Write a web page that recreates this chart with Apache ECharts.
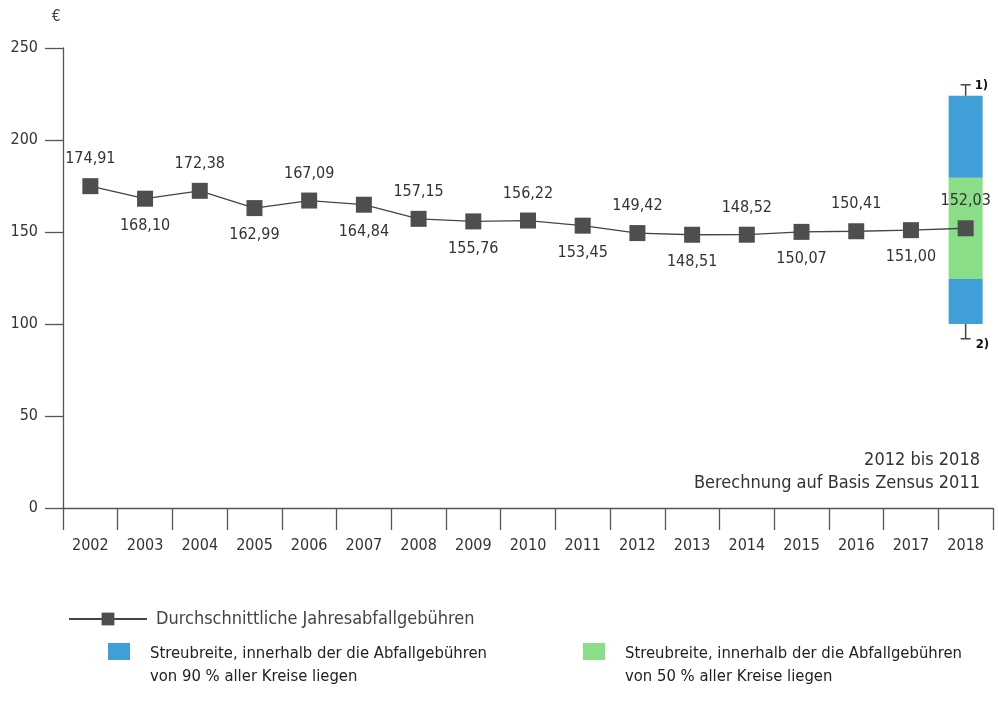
<!DOCTYPE html>
<html>
<head>
<meta charset="utf-8">
<script src="https://cdn.jsdelivr.net/npm/echarts@6/dist/echarts.min.js"></script>
<style>
html,body{margin:0;padding:0;background:#fff;}
#chart{width:998px;height:712px;}
</style>
</head>
<body>
<div id="chart"></div>
<script>
const years = ['2002','2003','2004','2005','2006','2007','2008','2009','2010','2011','2012','2013','2014','2015','2016','2017','2018'];
const fees = [174.91,168.10,172.38,162.99,167.09,164.84,157.15,155.76,156.22,153.45,149.42,148.51,148.52,150.07,150.41,151.00,152.03];
const spread90 = [100, 224];      // 2018: range containing 90 % of districts
const spread50 = [124.5, 179.5];  // 2018: range containing 50 % of districts
const whiskers = [[224, 230, '1)'], [100, 92, '2)']]; // from, to, note
const yTicks = [0, 50, 100, 150, 200, 250];

const FONT = '"DejaVu Sans Condensed", "Liberation Sans", sans-serif';
const nameLine = 'Durchschnittliche Jahresabfallgebühren';
const name90 = 'Streubreite, innerhalb der die Abfallgebühren\nvon 90 % aller Kreise liegen';
const name50 = 'Streubreite, innerhalb der die Abfallgebühren\nvon 50 % aller Kreise liegen';
const BLUE = '#3f9fd6', GREEN = '#8ade88';

const last = years.length - 1;
function only2018(v){ return years.map((y,i)=> i===last ? v : '-'); }

const fmt = v => v.toFixed(2).replace('.', ',');

const lineData = fees.map((v,i)=>({
  value: v,
  label: {position: i % 2 === 0 ? 'top' : 'bottom'}
}));

const chart = echarts.init(document.getElementById('chart'));
chart.setOption({
  animation: false,
  textStyle: {fontFamily: FONT},
  grid: {left: 63, right: 5, top: 48, bottom: 204, containLabel: false},
  xAxis: {
    type: 'category', data: years, boundaryGap: true,
    axisLine: {lineStyle: {color: '#555', width: 1.3}},
    axisTick: {show: true, length: 22, alignWithLabel: false, lineStyle: {color: '#555', width: 1.3}},
    axisLabel: {color: '#333', fontSize: 16, margin: 30, fontFamily: FONT},
    splitLine: {show: false}
  },
  yAxis: {
    type: 'value', min: yTicks[0], max: yTicks[yTicks.length-1], interval: 50,
    axisLine: {show: true, lineStyle: {color: '#555', width: 1.3}},
    axisTick: {show: true, length: 18, lineStyle: {color: '#555', width: 1.3}},
    axisLabel: {color: '#333', fontSize: 16, margin: 25, fontFamily: FONT},
    splitLine: {show: false}
  },
  legend: [
    {data: [nameLine], left: 63, top: 605, itemWidth: 78, itemHeight: 16, itemGap: 10,
     textStyle: {fontSize: 18, color: '#444', fontFamily: FONT, padding: [0,0,0,4]}, selectedMode: false},
    {data: [name90], left: 106, top: 637, itemWidth: 22, itemHeight: 16, itemStyle: {opacity: 0},
     textStyle: {fontSize: 16.5, color: '#222', lineHeight: 23, fontFamily: FONT, padding: [0,0,0,12]}, selectedMode: false},
    {data: [name50], left: 581, top: 637, itemWidth: 22, itemHeight: 16, itemStyle: {opacity: 0},
     textStyle: {fontSize: 16.5, color: '#222', lineHeight: 23, fontFamily: FONT, padding: [0,0,0,12]}, selectedMode: false}
  ],
  graphic: [
    {type: 'text', left: 52, top: 10, style: {text: '€', fontSize: 15, fill: '#444', fontFamily: FONT}},
    {type: 'text', x: 980, y: 449, style: {text: '2012 bis 2018\nBerechnung auf Basis Zensus 2011', align: 'right', fontSize: 18, lineHeight: 23, fill: '#333', fontFamily: FONT}},
    {type: 'rect', shape: {x: 108, y: 643, width: 22, height: 17}, style: {fill: BLUE}},
    {type: 'rect', shape: {x: 583, y: 643, width: 22, height: 17}, style: {fill: GREEN}}
  ],
  series: [
    {type: 'bar', stack: 's', name: 'base', data: only2018(spread90[0]), barWidth: 34,
     itemStyle: {color: 'transparent'}, silent: true},
    {type: 'bar', stack: 's', name: name90, data: only2018(spread50[0] - spread90[0]), barWidth: 34,
     itemStyle: {color: BLUE}},
    {type: 'bar', stack: 's', name: name50, data: only2018(spread50[1] - spread50[0]), barWidth: 34,
     itemStyle: {color: GREEN}},
    {type: 'bar', stack: 's', name: name90, data: only2018(spread90[1] - spread50[1]), barWidth: 34,
     itemStyle: {color: BLUE}},
    {type: 'custom', name: 'whisker', silent: true,
     data: whiskers.map(w => [last, w[0], w[1]]),
     renderItem: function(params, api){
       const p0 = api.coord([api.value(0), api.value(1)]);
       const p1 = api.coord([api.value(0), api.value(2)]);
       const note = whiskers[params.dataIndex][2];
       const up = p1[1] < p0[1];
       return {type: 'group', children: [
         {type: 'line', shape: {x1: p0[0], y1: p0[1], x2: p1[0], y2: p1[1]}, style: {stroke: '#444', lineWidth: 1.5}},
         {type: 'line', shape: {x1: p1[0]-5, y1: p1[1], x2: p1[0]+5, y2: p1[1]}, style: {stroke: '#444', lineWidth: 1.5}},
         {type: 'text', x: p1[0] + (up ? 9 : 10), y: p1[1] + (up ? 1 : 6), style: {text: note, fontSize: 13, fill: '#111', fontFamily: FONT, verticalAlign: 'middle', fontWeight: 'bold'}}
       ]};
     }},
    {type: 'line', name: nameLine, data: lineData, z: 5,
     symbol: 'rect', symbolSize: 16,
     lineStyle: {color: '#444', width: 1.3},
     itemStyle: {color: '#4c4f4e'},
     label: {show: true, distance: 11, fontSize: 16, color: '#333', fontFamily: FONT,
             formatter: p => fmt(p.value)}}
  ]
});
</script>
</body>
</html>
